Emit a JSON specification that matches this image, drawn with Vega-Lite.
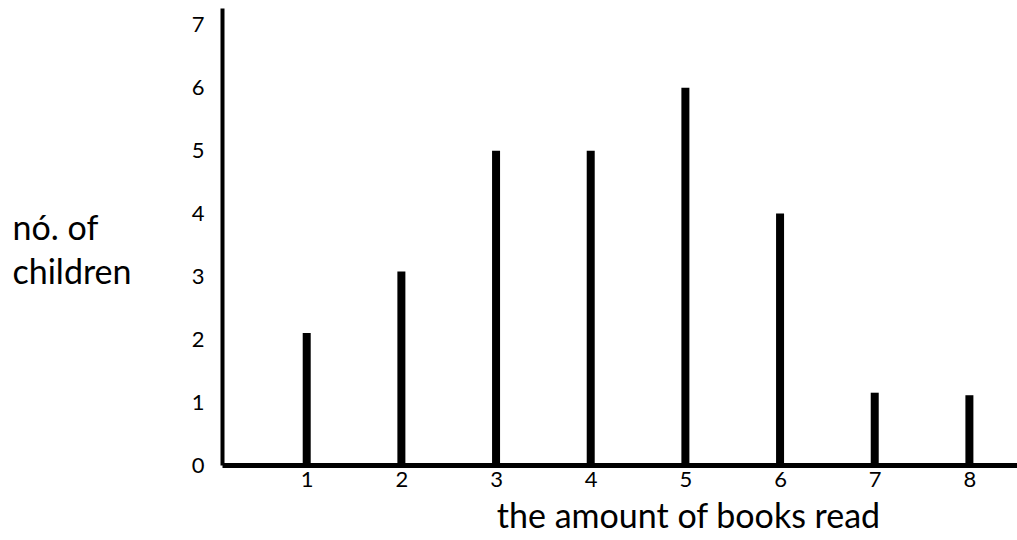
{
  "$schema": "https://vega.github.io/schema/vega-lite/v6.json",
  "width": 795,
  "height": 457,
  "autosize": "none",
  "padding": {"left": 222, "top": 8, "right": 0, "bottom": 75},
  "background": "white",
  "config": {
    "view": {"stroke": null},
    "font": "Lato"
  },
  "data": {
    "values": [
      {"books": 1, "children": 2.1},
      {"books": 2, "children": 3.08},
      {"books": 3, "children": 5.0},
      {"books": 4, "children": 5.0},
      {"books": 5, "children": 6.0},
      {"books": 6, "children": 4.0},
      {"books": 7, "children": 1.15},
      {"books": 8, "children": 1.11}
    ]
  },
  "mark": {"type": "bar", "size": 8, "color": "black"},
  "encoding": {
    "x": {
      "field": "books",
      "type": "quantitative",
      "scale": {"domain": [0.158, 8.45], "nice": false, "zero": false},
      "axis": {
        "values": [1, 2, 3, 4, 5, 6, 7, 8],
        "grid": false,
        "ticks": false,
        "domainColor": "black",
        "domainWidth": 5,
        "labelFont": "Lato",
        "labelFontSize": 22,
        "labelColor": "black",
        "labelPadding": 4,
        "labelDx": 3,
        "labelFlush": false,
        "title": "the amount of books read",
        "titleFont": "Lato",
        "titleFontSize": 34,
        "titleFontWeight": "normal",
        "titleColor": "black",
        "titleX": 466,
        "titleY": 62,
        "titleBaseline": "alphabetic",
        "titleAnchor": "middle",
        "titleAlign": "center"
      }
    },
    "y": {
      "field": "children",
      "type": "quantitative",
      "scale": {"domain": [0, 7.27], "nice": false},
      "axis": {
        "values": [0, 1, 2, 3, 4, 5, 6, 7],
        "grid": false,
        "ticks": false,
        "domainColor": "black",
        "domainWidth": 4,
        "labelFont": "Lato",
        "labelFontSize": 22,
        "labelColor": "black",
        "labelPadding": 18,
        "labelFlush": false,
        "title": ["nó. of", "children"],
        "titleFont": "Lato",
        "titleFontSize": 34,
        "titleFontWeight": "normal",
        "titleColor": "black",
        "titleAngle": 0,
        "titleAlign": "left",
        "titleBaseline": "alphabetic",
        "titleX": -210,
        "titleY": 231,
        "titleLineHeight": 44
      }
    }
  }
}
